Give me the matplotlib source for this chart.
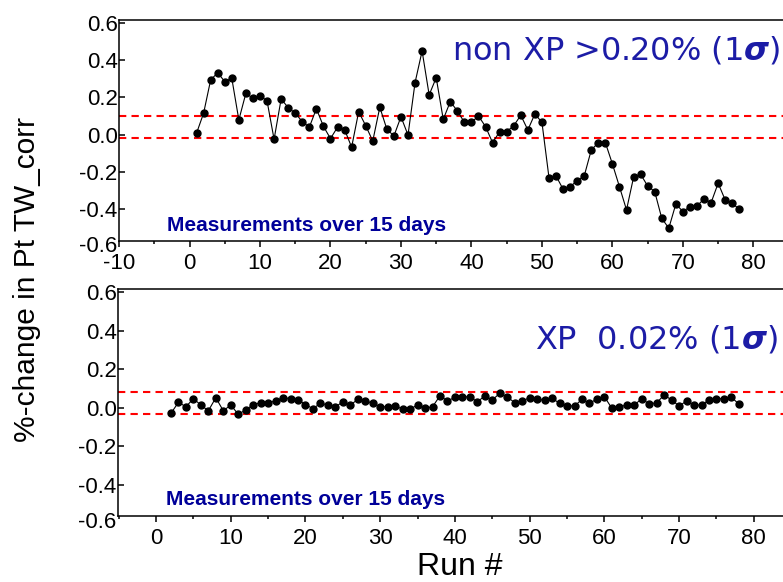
import matplotlib
matplotlib.use('Agg')
import matplotlib.pyplot as plt
import matplotlib.transforms as mtransforms
import numpy as np

# Pt TW_corr stability, run-by-run % change
runs_top = np.arange(1, 79)
change_nonxp = [0.008, 0.115, 0.293, 0.332, 0.284, 0.302, 0.079, 0.222, 0.195, 0.209,
                0.181, -0.025, 0.191, 0.145, 0.115, 0.070, 0.040, 0.139, 0.045, -0.021,
                0.040, 0.027, -0.067, 0.123, 0.048, -0.034, 0.147, 0.029, -0.007, 0.096,
                -0.002, 0.279, 0.448, 0.213, 0.305, 0.082, 0.177, 0.127, 0.066, 0.066,
                0.100, 0.043, -0.043, 0.016, 0.016, 0.048, 0.104, 0.025, 0.111, 0.066,
                -0.230, -0.221, -0.292, -0.279, -0.246, -0.221, -0.082, -0.043, -0.043, -0.157,
                -0.279, -0.403, -0.228, -0.212, -0.275, -0.305, -0.448, -0.501, -0.371, -0.412,
                -0.386, -0.382, -0.344, -0.364, -0.260, -0.350, -0.367, -0.400]

runs_bot = np.arange(2, 79)
change_xp = [-0.030, 0.027, 0.004, 0.046, 0.013, -0.017, 0.051, -0.017, 0.013, -0.035,
             -0.013, 0.015, 0.025, 0.025, 0.034, 0.051, 0.046, 0.041, 0.015, -0.006,
             0.022, 0.013, 0.004, 0.029, 0.013, 0.042, 0.034, 0.022, 0.004, 0.004,
             0.008, -0.008, -0.008, 0.013, -0.004, 0.004, 0.061, 0.034, 0.053, 0.056,
             0.055, 0.030, 0.060, 0.039, 0.074, 0.055, 0.025, 0.034, 0.051, 0.042,
             0.039, 0.048, 0.022, 0.009, 0.008, 0.042, 0.022, 0.044, 0.056, -0.004,
             0.004, 0.013, 0.013, 0.046, 0.018, 0.025, 0.065, 0.039, 0.008, 0.034,
             0.013, 0.013, 0.039, 0.046, 0.046, 0.053, 0.018]

band_top = [0.100, -0.018]
band_bot = [0.082, -0.034]
yticks = [-0.4, -0.2, 0.0, 0.2, 0.4, 0.6]

navy = '#000099'
blue = '#1c1ca6'
plt.rcParams['font.family'] = ['Liberation Sans', 'DejaVu Sans']
plt.rcParams['axes.unicode_minus'] = False

fig = plt.figure(figsize=(7.83, 5.82), dpi=100)
ax1 = fig.add_axes([0.152, 0.5864, 0.848, 0.3792])
ax2 = fig.add_axes([0.1507, 0.1139, 0.8493, 0.389])


def style(ax, xlim, ylim, band, low_shift):
    for y in band:
        ax.axhline(y, color='red', lw=1.5, ls=(0, (3.5, 2.5)), zorder=1)
    ax.set_yticks(yticks)
    ax.set_yticklabels(['%.1f' % v for v in yticks])
    ax.set_xticks(np.arange(-10, 90, 10))
    ax.set_xticks(np.arange(-5, 90, 10), minor=True)
    ax.set_xlim(*xlim)
    ax.set_ylim(*ylim)
    ax.spines['right'].set_visible(False)
    for s in ['left', 'bottom', 'top']:
        ax.spines[s].set_linewidth(1.1)
    ax.tick_params(axis='x', which='major', direction='out', length=4, width=1.1,
                   labelsize=16, pad=5)
    ax.tick_params(axis='x', which='minor', direction='out', length=2.5, width=1.1)
    ax.tick_params(axis='y', which='major', direction='in', length=4, width=1.1,
                   labelsize=16, pad=1)
    # bottom label sits just under the axis line
    tr = mtransforms.offset_copy(ax.transAxes, fig=fig, x=-1, y=-low_shift, units='points')
    ax.text(0, 0, '-0.6', transform=tr, ha='right', va='center', fontsize=16)


ax1.plot(runs_top, change_nonxp, '-o', color='black', lw=0.8, ms=5, zorder=3)
style(ax1, (-10, 84.2), (-0.568, 0.614), band_top, 4.3)
ax1.text(0.995, 0.86, r'non XP >0.20% (1$\boldsymbol{\sigma}$)', transform=ax1.transAxes,
         ha='right', va='center', color=blue, fontsize=23, family='DejaVu Sans')
ax1.text(0.072, 0.07, 'Measurements over 15 days', transform=ax1.transAxes,
         ha='left', va='center', color=navy, fontsize=15, fontweight='bold')

ax2.plot(runs_bot, change_xp, '-o', color='black', lw=0.8, ms=5, zorder=3)
style(ax2, (-5.09, 83.9), (-0.562, 0.614), band_bot, 5)
ax2.text(0.992, 0.78, r'XP  0.02% (1$\boldsymbol{\sigma}$)', transform=ax2.transAxes,
         ha='right', va='center', color=blue, fontsize=23, family='DejaVu Sans')
ax2.text(0.072, 0.07, 'Measurements over 15 days', transform=ax2.transAxes,
         ha='left', va='center', color=navy, fontsize=15, fontweight='bold')

fig.text(0.035, 0.52, '%-change in Pt TW_corr', rotation=90, ha='center', va='center',
         fontsize=21.5)
fig.text(0.587, 0.026, 'Run #', ha='center', va='center', fontsize=23)

fig.savefig('out.png', dpi=100)
